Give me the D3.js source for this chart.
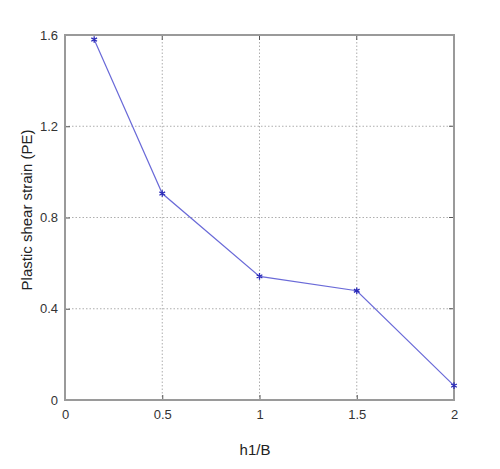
<!DOCTYPE html>
<html>
<head>
<meta charset="utf-8">
<script src="https://cdn.jsdelivr.net/npm/d3@7"></script>
<style>
  body { margin: 0; background: #fff; }
  text { font-family: "Liberation Sans", Arial, sans-serif; }
</style>
</head>
<body>
<div id="chart"></div>
<script>
const xVals = [0.15, 0.5, 1, 1.5, 2]
const yVals = [1.58, 0.905, 0.542, 0.479, 0.063]
const xTicks = [0, 0.5, 1, 1.5, 2]
const yTicks = [0, 0.4, 0.8, 1.2, 1.6]
const xTickLabels = ["0", "0.5", "1", "1.5", "2"]
const yTickLabels = ["0", "0.4", "0.8", "1.2", "1.6"]

const width = 500, height = 469
const margin = {left: 65, top: 35, right: 46, bottom: 69}
const w = width - margin.left - margin.right
const h = height - margin.top - margin.bottom

const svg = d3.select("#chart").append("svg")
    .attr("width", width)
    .attr("height", height)

const g = svg.append("g")
    .attr("transform", "translate(" + margin.left + "," + margin.top + ")")

const x = d3.scaleLinear().domain([0, 2]).range([0, w])
const y = d3.scaleLinear().domain([0, 1.6]).range([h, 0])

// grid
g.selectAll(".vgrid").data(xTicks.slice(1, -1)).enter()
    .append("line")
        .attr("x1", d => x(d)).attr("x2", d => x(d))
        .attr("y1", 0).attr("y2", h)
        .attr("stroke", "#999").attr("stroke-width", 0.8)
        .attr("stroke-dasharray", "1.5,2")
g.selectAll(".hgrid").data(yTicks.slice(1, -1)).enter()
    .append("line")
        .attr("y1", d => y(d)).attr("y2", d => y(d))
        .attr("x1", 0).attr("x2", w)
        .attr("stroke", "#999").attr("stroke-width", 0.8)
        .attr("stroke-dasharray", "1.5,2")

// axes (ticks inside)
const xAxis = d3.axisBottom(x).tickValues(xTicks).tickSizeInner(-5).tickSizeOuter(0)
    .tickFormat((d, i) => xTickLabels[i])
const yAxis = d3.axisLeft(y).tickValues(yTicks).tickSizeInner(-5).tickSizeOuter(0)
    .tickFormat((d, i) => yTickLabels[i])

const gx = g.append("g").attr("transform", "translate(0," + h + ")").call(xAxis)
const gy = g.append("g").call(yAxis)
for (const a of [gx, gy]) {
    a.select(".domain").remove()
    a.selectAll(".tick line").attr("stroke", "#555")
    a.selectAll(".tick text").attr("fill", "#333").style("font-size", "13px")
}
gx.selectAll(".tick text").attr("dy", "1em").attr("y", 6)
gy.selectAll(".tick text").attr("x", -7)

// mirror ticks on top/right
g.selectAll(".ttick").data(xTicks).enter().append("line")
    .attr("x1", d => x(d)).attr("x2", d => x(d)).attr("y1", 0).attr("y2", 5)
    .attr("stroke", "#555")
g.selectAll(".rtick").data(yTicks).enter().append("line")
    .attr("y1", d => y(d)).attr("y2", d => y(d)).attr("x1", w).attr("x2", w - 5)
    .attr("stroke", "#555")

// box
g.append("rect")
    .attr("x", 0).attr("y", 0).attr("width", w).attr("height", h)
    .attr("fill", "none").attr("stroke", "#9a9a9a").attr("stroke-width", 2)

// data line
const pts = xVals.map((d, i) => [d, yVals[i]])
g.append("path")
    .datum(pts)
    .attr("d", d3.line().x(d => x(d[0])).y(d => y(d[1])))
    .attr("fill", "none")
    .attr("stroke", "#6a6ad8")
    .attr("stroke-width", 1.2)

g.selectAll(".mark").data(pts).enter()
    .append("path")
        .attr("transform", d => "translate(" + x(d[0]) + "," + y(d[1]) + ")")
        .attr("d", d3.symbol(d3.symbolAsterisk, 30))
        .attr("stroke", "#2a2ab8")
        .attr("stroke-width", 1.3)
        .attr("fill", "none")

// labels
svg.append("text")
    .attr("x", 255)
    .attr("y", 455)
    .attr("text-anchor", "middle")
    .attr("fill", "#222")
    .style("font-size", "15px")
    .text("h1/B")

svg.append("text")
    .attr("transform", "translate(32,210) rotate(-90)")
    .attr("text-anchor", "middle")
    .attr("fill", "#222")
    .style("font-size", "15px")
    .text("Plastic shear strain (PE)")
</script>
</body>
</html>
